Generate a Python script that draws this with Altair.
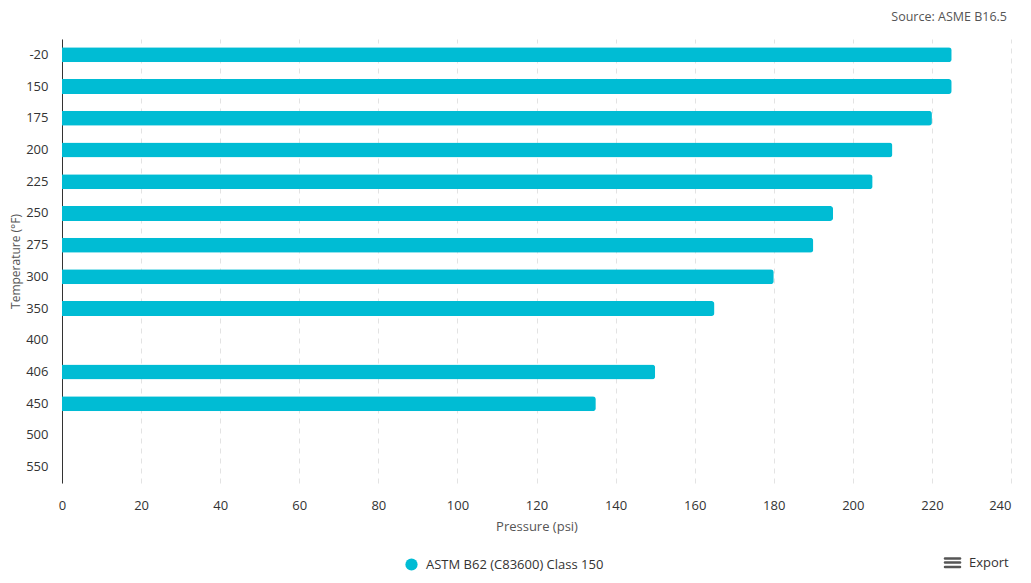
import altair as alt
import pandas as pd

temps = ["-20", "150", "175", "200", "225", "250", "275", "300", "350", "400", "406", "450", "500", "550"]
pressures = [225, 225, 220, 210, 205, 195, 190, 180, 165, None, 150, 135, None, None]
series_name = "ASTM B62 (C83600) Class 150"
source_text = "Source: ASME B16.5"
x_ticks = [0, 20, 40, 60, 80, 100, 120, 140, 160, 180, 200, 220, 240]

FONT = "Open Sans"
CYAN = "#00BCD4"

df = pd.DataFrame({"temp": temps, "psi": pressures, "series": [series_name] * len(temps)})

bars = alt.Chart(df).mark_bar(cornerRadiusEnd=3, height=15).encode(
    y=alt.Y("temp:N", scale=alt.Scale(domain=temps, paddingInner=0.5, paddingOuter=0.25),
            axis=alt.Axis(title="Temperature (°F)", ticks=False, labelPadding=14,
                          labelFontSize=13, labelColor="#333", labelFont=FONT,
                          titleFont=FONT, titleFontSize=12, titleFontWeight="normal",
                          titleColor="#555", titleAngle=-90, titleX=-47, titleY=222,
                          titleAlign="center", titleBaseline="middle",
                          domainColor="#333", domainWidth=1, grid=False)),
    x=alt.X("psi:Q", scale=alt.Scale(domain=[0, 240], nice=False),
            axis=alt.Axis(title="Pressure (psi)", values=x_ticks, ticks=False, domain=False,
                          labelFlush=False, labelOverlap=False,
                          labelAlign={"condition": {"test": "datum.value == 240", "value": "right"},
                                      "value": "center"},
                          labelPadding=16, labelFontSize=13, labelColor="#333", labelFont=FONT,
                          titleFont=FONT, titleFontSize=13, titleFontWeight="normal",
                          titleColor="#555", titlePadding=8,
                          grid=True, gridDash=[5, 5], gridColor="#e3e3e3", gridWidth=1)),
    color=alt.Color("series:N", scale=alt.Scale(domain=[series_name], range=[CYAN]),
                    legend=alt.Legend(title=None, orient="none", legendX=343, legendY=519,
                                      symbolType="circle", symbolSize=150, symbolStrokeWidth=0,
                                      labelLimit=400, labelOffset=8,
                                      labelFontSize=13, labelColor="#333", labelFont=FONT)),
)

src = alt.Chart(pd.DataFrame({"t": [source_text]})).mark_text(
    align="right", baseline="middle", font=FONT, fontSize=12.5, color="#555"
).encode(text="t:N", x=alt.value(945), y=alt.value(-22))

exp = alt.Chart(pd.DataFrame({"t": ["Export"]})).mark_text(
    align="left", baseline="middle", font=FONT, fontSize=13, color="#333"
).encode(text="t:N", x=alt.value(907), y=alt.value(524))

icon_layers = []
for yy in [519.5, 523.5, 528]:
    icon_layers.append(
        alt.Chart(pd.DataFrame({"t": [0]})).mark_rule(color="#555", strokeWidth=2.5, strokeCap="round")
        .encode(x=alt.value(883), x2=alt.value(898), y=alt.value(yy))
    )

chart = alt.layer(bars, src, exp, *icon_layers).properties(
    width=949, height=444,
    autosize=alt.AutoSizeParams(type="none"),
    padding={"left": 54, "top": 31, "right": 12, "bottom": 92},
).configure_view(stroke=None)

chart.save("out.html", embed_options={"renderer": "svg", "actions": False})
